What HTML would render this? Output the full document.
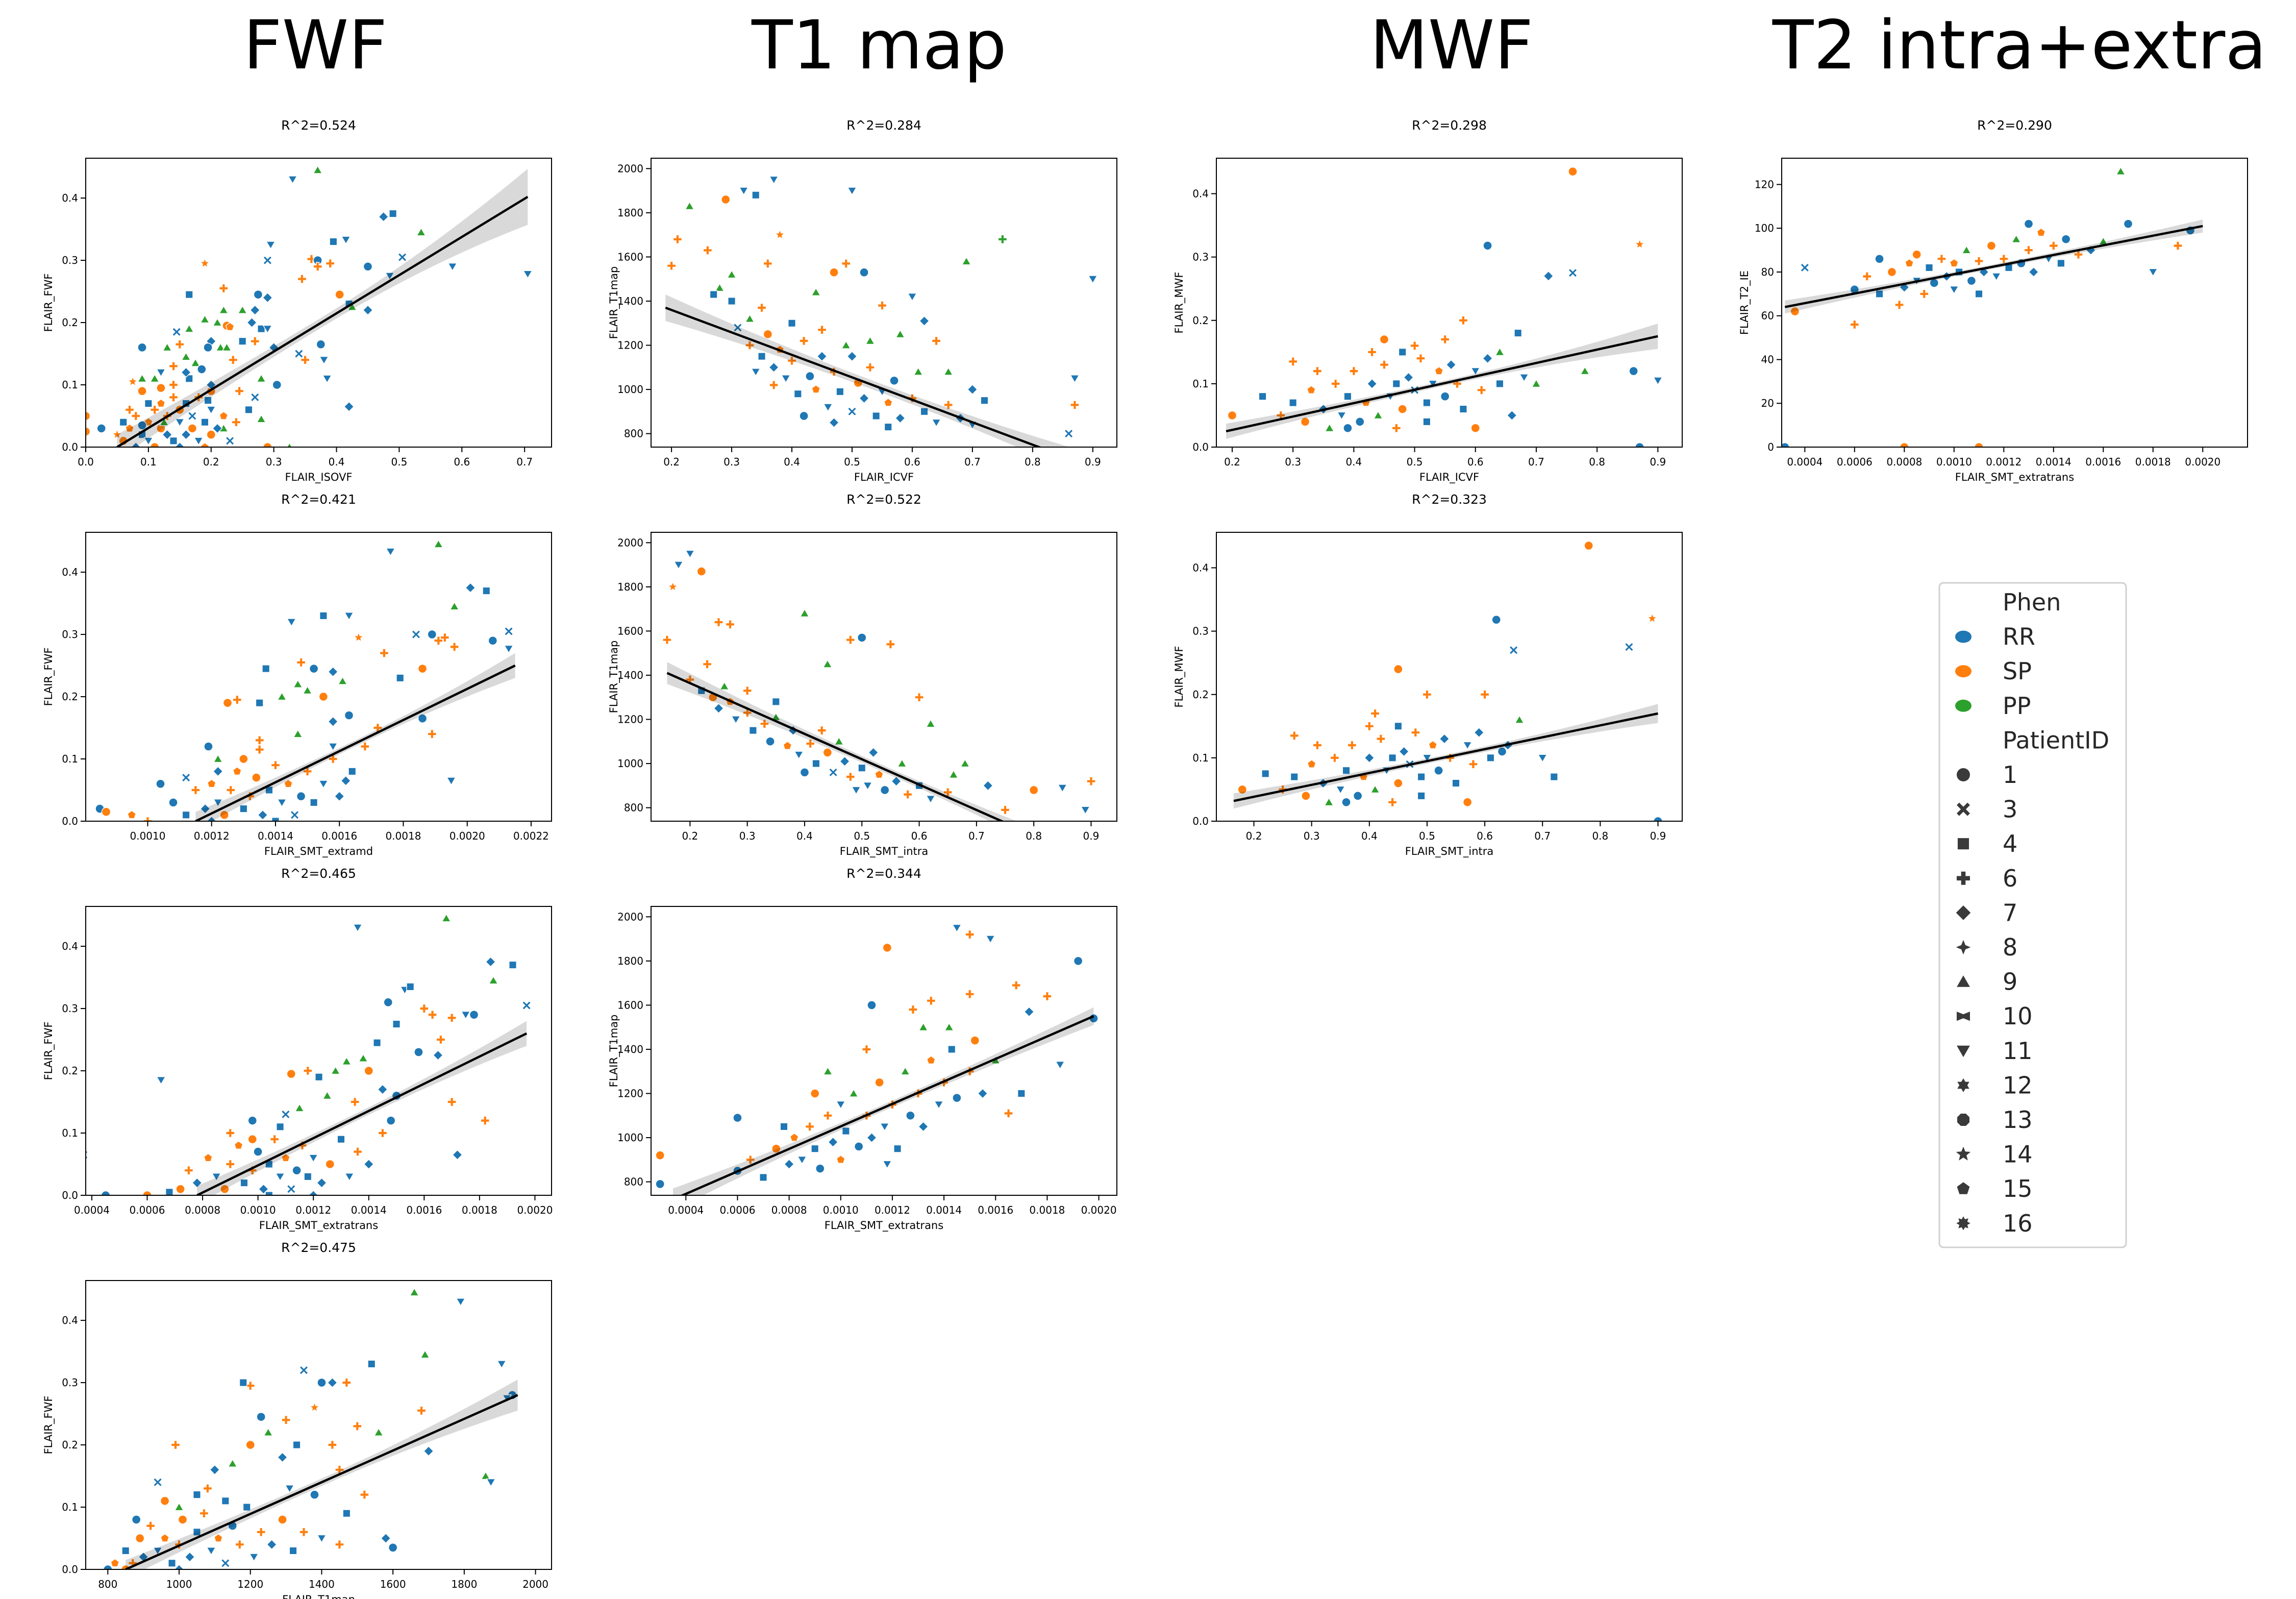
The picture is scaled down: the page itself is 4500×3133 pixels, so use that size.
<!DOCTYPE html>
<html><head><meta charset="utf-8">
<style>
html,body{margin:0;padding:0;background:#fff;}
svg{display:block;font-family:"DejaVu Sans","Liberation Sans",sans-serif;}
</style></head>
<body>
<svg id="fig" width="4500" height="3133" viewBox="0 0 4500 3133" xmlns="http://www.w3.org/2000/svg">
<rect width="4500" height="3133" fill="#fff"/>
<text x="618" y="134" font-size="132" text-anchor="middle">FWF</text>
<text x="1723" y="134" font-size="132" text-anchor="middle">T1 map</text>
<text x="2845" y="134" font-size="132" text-anchor="middle">MWF</text>
<text x="3958" y="134" font-size="132" text-anchor="middle">T2 intra+extra</text>
<g id="panels"></g>
<g id="legend"></g>
</svg>
<script>
// ---- data (x, y, phenotype index, marker index) ----
const phenNames = ["RR","SP","PP"];
const patientIds = ["1","3","4","6","7","8","9","10","11","12","13","14","15","16"];
const phenColors = ["#1f77b4","#ff7f0e","#2ca02c"];

const p1Pts = [[0.33,0.43,0,6],[0.37,0.445,2,5],[0.475,0.37,0,4],[0.49,0.375,0,2],[0.535,0.345,2,5],[0.395,0.33,0,2],[0.415,0.333,0,6],[0.295,0.325,0,6],[0.29,0.3,0,1],[0.36,0.302,1,3],[0.37,0.3,0,0],[0.37,0.29,1,3],[0.39,0.295,1,3],[0.19,0.295,1,7],[0.45,0.29,0,0],[0.485,0.275,0,6],[0.505,0.305,0,1],[0.585,0.29,0,6],[0.705,0.278,0,6],[0.345,0.27,1,3],[0.22,0.255,1,3],[0.165,0.245,0,2],[0.275,0.245,0,0],[0.29,0.24,0,4],[0.405,0.245,1,0],[0.42,0.23,0,2],[0.425,0.225,2,5],[0.45,0.22,0,4],[0.22,0.22,2,5],[0.25,0.22,2,5],[0.27,0.22,0,4],[0.19,0.205,2,5],[0.165,0.19,2,5],[0.21,0.2,2,5],[0.225,0.195,1,0],[0.23,0.193,1,8],[0.265,0.2,0,4],[0.28,0.19,0,2],[0.29,0.19,0,6],[0.145,0.185,0,1],[0.2,0.17,0,4],[0.25,0.17,0,2],[0.27,0.17,1,3],[0.15,0.165,1,3],[0.09,0.16,0,0],[0.13,0.16,2,5],[0.195,0.16,0,0],[0.215,0.16,2,5],[0.225,0.16,2,5],[0.3,0.16,0,4],[0.375,0.165,0,0],[0.34,0.15,0,1],[0.16,0.145,2,5],[0.175,0.135,2,5],[0.185,0.125,0,0],[0.235,0.14,1,3],[0.38,0.14,0,6],[0.35,0.14,1,3],[0.09,0.11,2,5],[0.11,0.11,2,5],[0.385,0.11,0,6],[0.28,0.11,2,5],[0.305,0.1,0,0],[0.14,0.1,1,3],[0.2,0.09,1,0],[0.12,0.095,1,0],[0.09,0.09,1,0],[0.075,0.105,1,7],[0.42,0.065,0,4],[0.28,0.045,2,5],[0.22,0.03,2,5],[0.025,0.03,0,0],[0.0,0.025,1,0],[0.0,0.05,1,0],
[0.06,0.01,1,0],[0.07,0.03,1,8],[0.08,0.05,1,3],[0.09,0.02,0,2],[0.1,0.04,1,8],[0.1,0.01,0,6],[0.11,0.06,1,3],[0.12,0.03,1,0],[0.12,0.07,1,8],[0.13,0.02,0,4],[0.13,0.05,1,3],[0.14,0.08,1,3],[0.14,0.01,0,2],[0.15,0.04,0,6],[0.15,0.06,1,0],[0.16,0.02,0,4],[0.16,0.07,0,2],[0.17,0.03,1,0],[0.17,0.05,0,1],[0.18,0.08,1,3],[0.18,0.01,0,6],[0.19,0.04,0,2],[0.2,0.02,1,0],[0.2,0.06,0,6],[0.21,0.03,0,4],[0.22,0.05,1,8],[0.23,0.01,0,1],[0.24,0.04,1,3],[0.08,0.0,0,4],[0.11,0.0,1,0],[0.15,0.0,0,4],[0.19,0.0,1,8],[0.05,0.02,1,7],[0.07,0.06,1,3],[0.1,0.07,0,2],[0.125,0.04,2,5],[0.09,0.035,0,0],[0.06,0.04,0,2],[0.26,0.06,0,2],[0.27,0.08,0,1],[0.29,0.0,1,0],[0.325,0.0,2,5],[0.245,0.09,1,3],[0.195,0.075,0,2],[0.165,0.11,0,2],[0.14,0.13,1,3],[0.12,0.12,0,6],[0.16,0.12,0,4],[0.2,0.1,0,4]];

const p2Pts = [[0.00176,0.433,0,6],[0.00191,0.445,2,5],[0.00201,0.375,0,4],[0.00206,0.37,0,2],[0.00213,0.305,0,1],[0.00196,0.345,2,5],[0.00163,0.33,0,6],[0.00155,0.33,0,2],[0.00145,0.32,0,6],[0.00184,0.3,0,1],[0.00189,0.3,0,0],[0.00191,0.29,1,3],[0.00193,0.295,1,3],[0.00166,0.295,1,7],[0.00196,0.28,1,3],[0.00208,0.29,0,0],[0.00213,0.277,0,6],[0.00174,0.27,1,3],[0.00148,0.255,1,3],[0.00137,0.245,0,2],[0.00152,0.245,0,0],[0.00158,0.24,0,4],[0.00186,0.245,1,0],[0.00179,0.23,0,2],[0.00161,0.225,2,5],[0.00147,0.22,2,5],[0.00142,0.2,2,5],[0.0015,0.21,2,5],[0.00155,0.2,1,0],[0.00135,0.19,0,2],[0.00128,0.195,1,3],[0.00125,0.19,1,0],[0.00163,0.17,0,0],[0.00158,0.16,0,4],[0.00186,0.165,0,0],[0.00189,0.14,1,3],[0.00147,0.14,2,5],[0.00135,0.13,1,3],[0.00158,0.12,0,6],[0.00195,0.065,0,6],[0.00162,0.065,0,4],[0.00119,0.12,0,0],[0.00122,0.1,2,5],[0.00112,0.07,0,1],
[0.00108,0.03,0,0],[0.00112,0.01,0,2],[0.00115,0.05,1,3],[0.00118,0.02,0,4],[0.0012,0.06,1,8],[0.00122,0.03,0,6],[0.00124,0.01,1,0],[0.00126,0.05,1,3],[0.00128,0.08,1,8],[0.0013,0.02,0,2],[0.00132,0.04,1,3],[0.00134,0.07,1,0],[0.00136,0.01,0,4],[0.00138,0.05,0,2],[0.0014,0.09,1,3],[0.00142,0.03,0,6],[0.00144,0.06,1,8],[0.00146,0.01,0,1],[0.00148,0.04,0,0],[0.0015,0.08,1,3],[0.00152,0.03,0,2],[0.00155,0.06,0,6],[0.00158,0.1,1,3],[0.0016,0.04,0,4],[0.00164,0.08,0,2],[0.00168,0.12,1,3],[0.00172,0.15,1,3],[0.0013,0.1,1,0],[0.00135,0.115,1,3],[0.00085,0.02,0,0],[0.00087,0.015,1,0],[0.001,0.0,1,3],[0.00104,0.06,0,0],[0.00095,0.01,1,8],[0.0012,0.0,0,4],[0.0014,0.0,0,2],[0.00122,0.08,0,4]];

const p3Pts = [[0.00136,0.43,0,6],[0.00168,0.445,2,5],[0.00184,0.375,0,4],[0.00192,0.37,0,2],[0.00197,0.305,0,1],[0.00185,0.345,2,5],[0.00153,0.33,0,6],[0.00155,0.335,0,2],[0.00147,0.31,0,0],[0.0016,0.3,1,3],[0.00163,0.29,1,3],[0.00175,0.29,0,6],[0.0017,0.285,1,3],[0.00178,0.29,0,0],[0.0015,0.275,0,2],[0.00166,0.25,1,3],[0.00158,0.23,0,0],[0.00165,0.225,0,4],[0.00143,0.245,0,2],[0.00138,0.22,2,5],[0.00132,0.215,2,5],[0.00128,0.2,2,5],[0.0014,0.2,1,0],[0.00122,0.19,0,2],[0.00118,0.2,1,3],[0.00112,0.195,1,0],[0.00145,0.17,0,4],[0.0015,0.16,0,0],[0.00125,0.16,2,5],[0.00135,0.15,1,3],[0.0017,0.15,1,3],[0.00172,0.065,0,4],[0.00182,0.12,1,3],[0.00108,0.11,0,2],[0.0011,0.13,0,1],[0.00115,0.14,2,5],[0.00098,0.12,0,0],[0.0009,0.1,1,3],[0.00065,0.185,0,6],[0.00037,0.065,0,1],
[0.00072,0.01,1,0],[0.00075,0.04,1,3],[0.00078,0.02,0,4],[0.00082,0.06,1,8],[0.00085,0.03,0,6],[0.00088,0.01,1,0],[0.0009,0.05,1,3],[0.00093,0.08,1,8],[0.00095,0.02,0,2],[0.00098,0.04,1,3],[0.001,0.07,0,0],[0.00102,0.01,0,4],[0.00104,0.05,0,2],[0.00106,0.09,1,3],[0.00108,0.03,0,6],[0.0011,0.06,1,8],[0.00112,0.01,0,1],[0.00114,0.04,0,0],[0.00116,0.08,1,3],[0.00118,0.03,0,2],[0.0012,0.06,0,6],[0.00123,0.02,0,4],[0.00126,0.05,1,0],[0.0013,0.09,0,2],[0.00133,0.03,0,6],[0.00136,0.07,1,3],[0.0014,0.05,0,4],[0.00145,0.1,1,3],[0.00148,0.12,0,0],[0.00068,0.005,0,2],[0.0006,0.0,1,0],[0.00045,0.0,0,0],[0.00033,0.015,1,0],[0.00104,0.0,0,2],[0.0012,0.0,0,4],[0.00098,0.09,1,0]];

const p4Pts = [[1660,0.445,2,5],[1790,0.43,0,6],[1905,0.33,0,6],[1540,0.33,0,2],[1400,0.3,0,0],[1430,0.3,0,4],[1470,0.3,1,3],[1350,0.32,0,1],[1690,0.345,2,5],[1200,0.295,1,3],[1180,0.3,0,2],[1935,0.28,0,0],[1920,0.275,0,6],[1860,0.15,2,5],[1875,0.14,0,6],[1600,0.035,0,0],[1580,0.05,0,4],[1560,0.22,2,5],[1500,0.23,1,3],[1300,0.24,1,3],[1680,0.255,1,3],[1230,0.245,0,0],[1250,0.22,2,5],[1430,0.2,1,3],[1380,0.26,1,7],[1330,0.2,0,2],[1290,0.18,0,4],[1200,0.2,1,0],[1150,0.17,2,5],[1100,0.16,0,4],[1050,0.12,0,2],[990,0.2,1,3],[940,0.14,0,1],[1000,0.1,2,5],[1700,0.19,0,4],[1450,0.16,1,3],[1380,0.12,0,0],[1310,0.13,0,6],[1520,0.12,1,3],[1470,0.09,0,2],
[800,0.0,0,0],[820,0.01,1,8],[850,0.03,0,2],[870,0.01,1,3],[890,0.05,1,0],[900,0.02,0,4],[920,0.07,1,3],[940,0.03,0,6],[960,0.05,1,8],[980,0.01,0,2],[1000,0.04,1,3],[1010,0.08,1,0],[1030,0.02,0,4],[1050,0.06,0,2],[1070,0.09,1,3],[1090,0.03,0,6],[1110,0.05,1,8],[1130,0.01,0,1],[1150,0.07,0,0],[1170,0.04,1,3],[1190,0.1,0,2],[1210,0.02,0,6],[1230,0.06,1,3],[1260,0.04,0,4],[1290,0.08,1,0],[1320,0.03,0,2],[1350,0.06,1,3],[1400,0.05,0,6],[1450,0.04,1,3],[960,0.11,1,0],[880,0.08,0,0],[1080,0.13,1,3],[1130,0.11,0,2],[850,0.0,1,0],[1000,0.0,0,4]];

const p5Pts = [[0.23,1830,2,5],[0.32,1900,0,6],[0.37,1950,0,6],[0.34,1880,0,2],[0.29,1860,1,0],[0.5,1900,0,6],[0.9,1500,0,6],[0.75,1680,2,3],[0.69,1580,2,5],[0.87,1050,0,6],[0.86,800,0,1],[0.87,930,1,3],[0.2,1560,1,3],[0.21,1680,1,3],[0.26,1630,1,3],[0.3,1520,2,5],[0.28,1460,2,5],[0.27,1430,0,2],[0.36,1570,1,3],[0.38,1700,1,7],[0.47,1530,1,0],[0.49,1570,1,3],[0.52,1530,0,0],[0.44,1440,2,5],[0.55,1380,1,3],[0.6,1420,0,6],[0.62,1310,0,4],[0.58,1250,2,5],[0.64,1220,1,3],[0.66,1080,2,5],[0.7,1000,0,4],[0.72,950,0,2],[0.7,840,0,6],[0.3,1400,0,2],[0.33,1320,2,5],[0.35,1370,1,3],[0.31,1280,0,1],
[0.33,1200,1,3],[0.35,1150,0,2],[0.36,1250,1,0],[0.37,1100,0,4],[0.38,1180,1,8],[0.39,1050,0,6],[0.4,1130,1,3],[0.41,980,0,2],[0.42,1220,1,3],[0.43,1060,0,0],[0.44,1000,1,8],[0.45,1150,0,4],[0.46,920,0,6],[0.47,1080,1,3],[0.48,990,0,2],[0.49,1200,2,5],[0.5,900,0,1],[0.51,1030,1,0],[0.52,960,0,4],[0.53,1100,1,3],[0.54,880,0,2],[0.55,990,0,6],[0.56,940,1,8],[0.57,1040,0,0],[0.58,870,0,4],[0.6,960,1,3],[0.62,900,0,2],[0.64,850,0,6],[0.66,930,1,3],[0.68,870,0,4],[0.4,1300,0,2],[0.45,1270,1,3],[0.5,1150,0,4],[0.53,1220,2,5],[0.34,1080,0,6],[0.42,880,0,0],[0.47,850,0,4],[0.56,830,0,2],[0.61,1080,2,5],[0.37,1020,1,3]];

const p6Pts = [[0.18,1900,0,6],[0.2,1950,0,6],[0.22,1870,1,0],[0.17,1800,1,7],[0.16,1560,1,3],[0.25,1640,1,3],[0.27,1630,1,3],[0.4,1680,2,5],[0.48,1560,1,3],[0.5,1570,0,0],[0.55,1540,1,3],[0.85,890,0,6],[0.89,790,0,6],[0.9,920,1,3],[0.75,790,1,3],[0.8,880,1,0],[0.44,1450,2,5],[0.62,1180,2,5],[0.6,1300,1,3],[0.68,1000,2,5],[0.72,900,0,4],
[0.2,1380,1,3],[0.22,1330,0,2],[0.24,1300,1,0],[0.25,1250,0,4],[0.27,1280,1,8],[0.28,1200,0,6],[0.3,1230,1,3],[0.31,1150,0,2],[0.33,1180,1,3],[0.34,1100,0,0],[0.35,1210,2,5],[0.37,1080,1,8],[0.38,1150,0,4],[0.39,1040,0,6],[0.41,1090,1,3],[0.42,1000,0,2],[0.44,1050,1,0],[0.45,960,0,1],[0.47,1010,0,4],[0.48,940,1,3],[0.5,980,0,2],[0.51,900,0,6],[0.53,950,1,8],[0.54,880,0,0],[0.56,920,0,4],[0.58,860,1,3],[0.6,900,0,2],[0.62,840,0,6],[0.65,870,1,3],[0.3,1330,1,3],[0.26,1350,2,5],[0.35,1280,0,2],[0.43,1150,1,3],[0.46,1100,2,5],[0.52,1050,0,4],[0.57,1000,2,5],[0.23,1450,1,3],[0.4,960,0,0],[0.49,880,0,6],[0.66,950,2,5]];

const p7Pts = [[0.00145,1950,0,6],[0.0015,1920,1,3],[0.00158,1900,0,6],[0.00118,1860,1,0],[0.00192,1800,0,0],[0.0018,1640,1,3],[0.00168,1690,1,3],[0.00198,1540,0,0],[0.0003,920,1,0],[0.0003,790,0,0],[0.0006,1090,0,0],[0.00112,1600,0,0],[0.00128,1580,1,3],[0.00135,1620,1,3],[0.0015,1650,1,3],[0.00173,1570,0,4],[0.00142,1500,2,5],[0.00132,1500,2,5],[0.00152,1440,1,0],[0.00165,1110,1,3],[0.0017,1200,0,2],[0.00185,1330,0,6],
[0.0006,850,0,0],[0.00065,900,1,3],[0.0007,820,0,2],[0.00075,950,1,0],[0.0008,880,0,4],[0.00082,1000,1,8],[0.00085,900,0,6],[0.00088,1050,1,3],[0.0009,950,0,2],[0.00092,860,0,0],[0.00095,1100,1,3],[0.00097,980,0,4],[0.001,1150,0,6],[0.001,900,1,8],[0.00102,1030,0,2],[0.00105,1200,2,5],[0.00107,960,0,0],[0.0011,1100,1,3],[0.00112,1000,0,4],[0.00115,1250,1,0],[0.00117,1050,0,6],[0.0012,1150,1,3],[0.00122,950,0,2],[0.00125,1300,2,5],[0.00127,1100,0,0],[0.0013,1200,1,3],[0.00132,1050,0,4],[0.00135,1350,1,8],[0.00138,1150,0,6],[0.0014,1250,1,3],[0.00143,1400,0,2],[0.00145,1180,0,0],[0.0015,1300,1,3],[0.00155,1200,0,4],[0.0016,1350,2,5],[0.00095,1300,2,5],[0.0011,1400,1,3],[0.0009,1200,1,0],[0.00118,880,0,6],[0.00078,1050,0,2]];

const p8Pts = [[0.76,0.435,1,0],[0.62,0.318,0,0],[0.87,0.32,1,7],[0.72,0.27,0,4],[0.76,0.275,0,1],[0.86,0.12,0,0],[0.9,0.105,0,6],[0.87,0.0,0,0],[0.58,0.2,1,3],[0.5,0.16,1,3],[0.64,0.15,2,5],[0.78,0.12,2,5],[0.68,0.11,0,6],[0.2,0.05,1,0],[0.25,0.08,0,2],[0.3,0.135,1,3],[0.55,0.17,1,3],[0.45,0.17,1,0],[0.67,0.18,0,2],[0.66,0.05,0,4],
[0.28,0.05,1,3],[0.3,0.07,0,2],[0.32,0.04,1,0],[0.33,0.09,1,8],[0.35,0.06,0,4],[0.36,0.03,2,5],[0.37,0.1,1,3],[0.38,0.05,0,6],[0.39,0.08,0,2],[0.4,0.12,1,3],[0.41,0.04,0,0],[0.42,0.07,1,8],[0.43,0.1,0,4],[0.44,0.05,2,5],[0.45,0.13,1,3],[0.46,0.08,0,6],[0.47,0.1,0,2],[0.48,0.06,1,0],[0.49,0.11,0,4],[0.5,0.09,0,1],[0.51,0.14,1,3],[0.52,0.07,0,2],[0.53,0.1,0,6],[0.54,0.12,1,8],[0.55,0.08,0,0],[0.56,0.13,0,4],[0.57,0.1,1,3],[0.58,0.06,0,2],[0.6,0.12,0,6],[0.61,0.09,1,3],[0.62,0.14,0,4],[0.64,0.1,0,2],[0.34,0.12,1,3],[0.39,0.03,0,0],[0.47,0.03,1,3],[0.52,0.04,0,2],[0.6,0.03,1,0],[0.43,0.15,1,3],[0.48,0.15,0,2],[0.7,0.1,2,5]];

const p9Pts = [[0.78,0.435,1,0],[0.62,0.318,0,0],[0.89,0.32,1,7],[0.65,0.27,0,1],[0.85,0.275,0,1],[0.9,0.0,0,0],[0.5,0.2,1,3],[0.6,0.2,1,3],[0.45,0.24,1,0],[0.41,0.17,1,3],[0.27,0.135,1,3],[0.72,0.07,0,2],[0.7,0.1,0,6],[0.18,0.05,1,0],[0.22,0.075,0,2],[0.66,0.16,2,5],[0.64,0.12,0,4],
[0.25,0.05,1,3],[0.27,0.07,0,2],[0.29,0.04,1,0],[0.3,0.09,1,8],[0.32,0.06,0,4],[0.33,0.03,2,5],[0.34,0.1,1,3],[0.35,0.05,0,6],[0.36,0.08,0,2],[0.37,0.12,1,3],[0.38,0.04,0,0],[0.39,0.07,1,8],[0.4,0.1,0,4],[0.41,0.05,2,5],[0.42,0.13,1,3],[0.43,0.08,0,6],[0.44,0.1,0,2],[0.45,0.06,1,0],[0.46,0.11,0,4],[0.47,0.09,0,1],[0.48,0.14,1,3],[0.49,0.07,0,2],[0.5,0.1,0,6],[0.51,0.12,1,8],[0.52,0.08,0,0],[0.53,0.13,0,4],[0.54,0.1,1,3],[0.55,0.06,0,2],[0.57,0.12,0,6],[0.58,0.09,1,3],[0.59,0.14,0,4],[0.61,0.1,0,2],[0.31,0.12,1,3],[0.36,0.03,0,0],[0.44,0.03,1,3],[0.49,0.04,0,2],[0.57,0.03,1,0],[0.4,0.15,1,3],[0.45,0.15,0,2],[0.63,0.11,0,0]];

const p10Pts = [[0.0004,82,0,1],[0.00032,0,0,0],[0.0006,56,1,3],[0.00167,126,2,5],[0.0018,80,0,6],[0.0008,0,1,0],[0.0011,0,1,0],[0.00195,99,0,0],[0.0017,102,0,0],[0.00036,62,1,0],[0.0019,92,1,3],
[0.0006,72,0,0],[0.00065,78,1,3],[0.0007,70,0,2],[0.00075,80,1,0],[0.0008,73,0,4],[0.00082,84,1,8],[0.00085,76,0,6],[0.00088,70,1,3],[0.0009,82,0,2],[0.00092,75,0,0],[0.00095,86,1,3],[0.00097,78,0,4],[0.001,72,0,6],[0.001,84,1,8],[0.00102,80,0,2],[0.00105,90,2,5],[0.00107,76,0,0],[0.0011,85,1,3],[0.00112,80,0,4],[0.00115,92,1,0],[0.00117,78,0,6],[0.0012,86,1,3],[0.00122,82,0,2],[0.00125,95,2,5],[0.00127,84,0,0],[0.0013,90,1,3],[0.00132,80,0,4],[0.00135,98,1,8],[0.00138,86,0,6],[0.0014,92,1,3],[0.00143,84,0,2],[0.00145,95,0,0],[0.0015,88,1,3],[0.00155,90,0,4],[0.0016,94,2,5],[0.00085,88,1,0],[0.0011,70,0,2],[0.0013,102,0,0],[0.00078,65,1,3],[0.0007,86,0,0]];

// regression lines [x0,y0,x1,y1] and CI half-widths [left, centre, right]
const fitLines = [[0.05,0,0.705,0.402],[0.00115,0,0.00215,0.25],[0.00078,0,0.00197,0.26],[850,0,1950,0.28],[0.19,1370,0.9,648],[0.16,1410,0.9,560],[0.00035,720,0.00198,1550],[0.19,0.025,0.9,0.175],[0.165,0.032,0.9,0.17],[0.00032,64,0.002,101]];
const fitBands = [[0.02,0.008,0.045],[0.015,0.005,0.02],[0.015,0.006,0.02],[0.015,0.006,0.025],[60,20,60],[50,15,50],[50,15,40],[0.012,0.004,0.02],[0.012,0.004,0.015],[3,1,3]];
const r2Labels = ["R^2=0.524","R^2=0.421","R^2=0.465","R^2=0.475","R^2=0.284","R^2=0.522","R^2=0.344","R^2=0.298","R^2=0.323","R^2=0.290"];
const xLabels = ["FLAIR_ISOVF","FLAIR_SMT_extramd","FLAIR_SMT_extratrans","FLAIR_T1map","FLAIR_ICVF","FLAIR_SMT_intra","FLAIR_SMT_extratrans","FLAIR_ICVF","FLAIR_SMT_intra","FLAIR_SMT_extratrans"];
const yLabels = ["FLAIR_FWF","FLAIR_FWF","FLAIR_FWF","FLAIR_FWF","FLAIR_T1map","FLAIR_T1map","FLAIR_T1map","FLAIR_MWF","FLAIR_MWF","FLAIR_T2_IE"];
const xDomains = [[0,0.743],[0.000806,0.002264],[0.000378,0.00206],[738,2045],[0.166,0.94],[0.132,0.945],[0.000265,0.00207],[0.174,0.94],[0.135,0.942],[0.000307,0.00218]];
const yDomains = [[0,0.464],[0,0.464],[0,0.464],[0,0.464],[739,2047],[739,2047],[739,2047],[0,0.456],[0,0.456],[0,132]];
const tkFWFy = ["0.0","0.1","0.2","0.3","0.4"];
const tkT1y = ["800","1000","1200","1400","1600","1800","2000"];
const tkMWFy = ["0.0","0.1","0.2","0.3","0.4"];
const tkT2y = ["0","20","40","60","80","100","120"];
const tkISO = ["0.0","0.1","0.2","0.3","0.4","0.5","0.6","0.7"];
const tkMD = ["0.0010","0.0012","0.0014","0.0016","0.0018","0.0020","0.0022"];
const tkET = ["0.0004","0.0006","0.0008","0.0010","0.0012","0.0014","0.0016","0.0018","0.0020"];
const tkT1x = ["800","1000","1200","1400","1600","1800","2000"];
const tkFrac = ["0.2","0.3","0.4","0.5","0.6","0.7","0.8","0.9"];
const xTicks = [tkISO,tkMD,tkET,tkT1x,tkFrac,tkFrac,tkET,tkFrac,tkFrac,tkET];
const yTicks = [tkFWFy,tkFWFy,tkFWFy,tkFWFy,tkT1y,tkT1y,tkT1y,tkMWFy,tkMWFy,tkT2y];
const allPts = [p1Pts,p2Pts,p3Pts,p4Pts,p5Pts,p6Pts,p7Pts,p8Pts,p9Pts,p10Pts];

// ---- layout ----
const cells = [[0,0],[0,1],[0,2],[0,3],[1,0],[1,1],[1,2],[2,0],[2,1],[3,0]]; // [col,row]
const colLeft = [168,1276,2384,3492], rowTop = [310,1043,1776,2509], PW = 913, PH = 566;
const NS = "http://www.w3.org/2000/svg";
function mk(tag, attrs, parent){const e=document.createElementNS(NS,tag);for(const k in attrs)e.setAttribute(k,attrs[k]);if(parent)parent.appendChild(e);return e;}
function starPts(cx,cy,n,ro,ri,rot){let s=[];for(let i=0;i<2*n;i++){const a=rot+Math.PI*i/n;const r=i%2?ri:ro;s.push((cx+r*Math.sin(a)).toFixed(1)+","+(cy-r*Math.cos(a)).toFixed(1));}return s.join(" ");}
function polyPts(cx,cy,n,r,rot){let s=[];for(let i=0;i<n;i++){const a=rot+2*Math.PI*i/n;s.push((cx+r*Math.sin(a)).toFixed(1)+","+(cy-r*Math.cos(a)).toFixed(1));}return s.join(" ");}
function drawShape(g, shape, cx, cy, r, fill, stroke, sw){
  let e;
  const st = {fill:fill, stroke:stroke, "stroke-width":sw};
  if(shape===0){e=mk("circle",Object.assign({cx:cx,cy:cy,r:r},st),g);}
  else if(shape===1){const t=r*0.38;const base=[[-t,0],[-r,-r+t],[-r+t,-r],[0,-t],[r-t,-r],[r,-r+t],[t,0],[r,r-t],[r-t,r],[0,t],[-r+t,r],[-r,r-t]];e=mk("polygon",Object.assign({points:base.map(q=>(cx+q[0]).toFixed(1)+","+(cy+q[1]).toFixed(1)).join(" ")},st),g);}
  else if(shape===2){e=mk("rect",Object.assign({x:cx-r*0.85,y:cy-r*0.85,width:r*1.7,height:r*1.7},st),g);}
  else if(shape===3){const t=r*0.33;const base=[[-t,-r],[t,-r],[t,-t],[r,-t],[r,t],[t,t],[t,r],[-t,r],[-t,t],[-r,t],[-r,-t],[-t,-t]];e=mk("polygon",Object.assign({points:base.map(q=>(cx+q[0]).toFixed(1)+","+(cy+q[1]).toFixed(1)).join(" ")},st),g);}
  else if(shape===4){e=mk("polygon",Object.assign({points:polyPts(cx,cy,4,r*1.1,0)},st),g);}
  else if(shape===5){e=mk("polygon",Object.assign({points:starPts(cx,cy,4,r*1.1,r*0.45,0)},st),g);}
  else if(shape===6){e=mk("polygon",Object.assign({points:polyPts(cx,cy+r*0.2,3,r*1.15,0)},st),g);}
  else if(shape===7){const base=[[-r,-r*0.7],[0,-r*0.3],[r,-r*0.7],[r,r*0.7],[0,r*0.3],[-r,r*0.7]];e=mk("polygon",Object.assign({points:base.map(q=>(cx+q[0]).toFixed(1)+","+(cy+q[1]).toFixed(1)).join(" ")},st),g);}
  else if(shape===8){e=mk("polygon",Object.assign({points:polyPts(cx,cy-r*0.2,3,r*1.15,Math.PI)},st),g);}
  else if(shape===9){e=mk("polygon",Object.assign({points:starPts(cx,cy,6,r*1.05,r*0.6,0)},st),g);}
  else if(shape===10){e=mk("polygon",Object.assign({points:polyPts(cx,cy,8,r,Math.PI/8)},st),g);}
  else if(shape===11){e=mk("polygon",Object.assign({points:starPts(cx,cy,5,r*1.15,r*0.5,0)},st),g);}
  else if(shape===12){e=mk("polygon",Object.assign({points:polyPts(cx,cy,5,r,0)},st),g);}
  else {e=mk("polygon",Object.assign({points:starPts(cx,cy,8,r*1.05,r*0.65,0)},st),g);}
  return e;
}
const markerShape = [0,1,2,3,4,6,8,11,12];

const panelsG = document.getElementById("panels");
cells.forEach((cell, i) => {
  const L = colLeft[cell[0]], T = rowTop[cell[1]];
  const xd = xDomains[i], yd = yDomains[i];
  const sx = v => L + (v - xd[0]) / (xd[1] - xd[0]) * PW;
  const sy = v => T + PH - (v - yd[0]) / (yd[1] - yd[0]) * PH;
  const g = mk("g", {}, panelsG);
  
  
  const clip = mk("clipPath", {id: "clip" + i}, g);
  mk("rect", {x: L, y: T, width: PW, height: PH}, clip);
  const t = mk("text", {x: L + PW/2, y: T - 56, "font-size": 25, "text-anchor": "middle", fill: "#000"}, g);
  t.textContent = r2Labels[i];
  
  
  const pg = mk("g", {"clip-path": "url(#clip" + i + ")"}, g);
  allPts[i].forEach(p => {
    const e = drawShape(pg, markerShape[p[3]], sx(p[0]), sy(p[1]), 8.5, phenColors[p[2]], "#fff", 1.4);
    
    
  });
  const fl = fitLines[i], fb = fitBands[i];
  const N = 30, up = [], lo = [];
  for (let k = 0; k <= N; k++) {
    const u = k / N, xv = fl[0] + (fl[2] - fl[0]) * u, yv = fl[1] + (fl[3] - fl[1]) * u;
    const s = 2*u - 1;
    const hw = s < 0 ? fb[1] + (fb[0]-fb[1]) * s * s : fb[1] + (fb[2]-fb[1]) * s * s;
    up.push(sx(xv).toFixed(1) + "," + sy(yv + hw).toFixed(1));
    lo.unshift(sx(xv).toFixed(1) + "," + sy(yv - hw).toFixed(1));
  }
  const band = mk("polygon", {points: up.concat(lo).join(" "), fill: "#000", "fill-opacity": 0.15, stroke: "none", "clip-path": "url(#clip" + i + ")"}, g);
  
  
  const ln = mk("line", {x1: sx(fl[0]), y1: sy(fl[1]), x2: sx(fl[2]), y2: sy(fl[3]), stroke: "#000", "stroke-width": 4.5, "clip-path": "url(#clip" + i + ")"}, g);
  
  
  const fr = mk("rect", {x: L, y: T, width: PW, height: PH, fill: "none", stroke: "#000", "stroke-width": 2}, g);
  
  
  xTicks[i].forEach(lbl => {
    const v = parseFloat(lbl), x = sx(v);
    mk("line", {x1: x, y1: T + PH, x2: x, y2: T + PH + 10, stroke: "#000", "stroke-width": 2}, g);
    const tt = mk("text", {x: x, y: T + PH + 36, "font-size": 20, "text-anchor": "middle"}, g);
    tt.textContent = lbl;
    
    
  });
  yTicks[i].forEach(lbl => {
    const v = parseFloat(lbl), y = sy(v);
    mk("line", {x1: L - 10, y1: y, x2: L, y2: y, stroke: "#000", "stroke-width": 2}, g);
    const tt = mk("text", {x: L - 15, y: y + 7, "font-size": 20, "text-anchor": "end"}, g);
    tt.textContent = lbl;
    
    
  });
  const xl = mk("text", {x: L + PW/2, y: T + PH + 66, "font-size": 21, "text-anchor": "middle"}, g);
  xl.textContent = xLabels[i];
  
  
  const yl = mk("text", {x: 0, y: 0, "font-size": 21, "text-anchor": "middle", transform: "translate(" + (L - 66) + "," + (T + PH/2) + ") rotate(-90)"}, g);
  yl.textContent = yLabels[i];
  
  
});

// ---- legend ----
const lg = document.getElementById("legend");
mk("rect", {x: 3801, y: 1142, width: 366, height: 1302, rx: 8, fill: "#fff", stroke: "#d0d0d0", "stroke-width": 3}, lg);
const rowY0 = 1180, rowDY = 67.6, txtX = 3925, mkX = 3848;
function legText(str, idx, name){
  const t = mk("text", {x: txtX, y: rowY0 + idx*rowDY + 16, "font-size": 46, fill: "#262626"}, lg);
  t.textContent = str;
  
  
}
legText("Phen", 0, "legend-title-phen");
phenNames.forEach((n, k) => {
  const c = mk("ellipse", {cx: mkX, cy: rowY0 + (k+1)*rowDY, rx: 16, ry: 12, fill: phenColors[k]}, lg);
  
  
  legText(n, k+1, 'legend-entry-' + n.toLowerCase());
});
legText("PatientID", 4, "legend-title-patientid");
patientIds.forEach((n, k) => {
  const e = drawShape(lg, k, mkX, rowY0 + (k+5)*rowDY, 13, "#3a3a3a", "none", 0);
  
  
  legText(n, k+5, 'legend-entry-patient-' + n);
});
</script>
</body></html>
